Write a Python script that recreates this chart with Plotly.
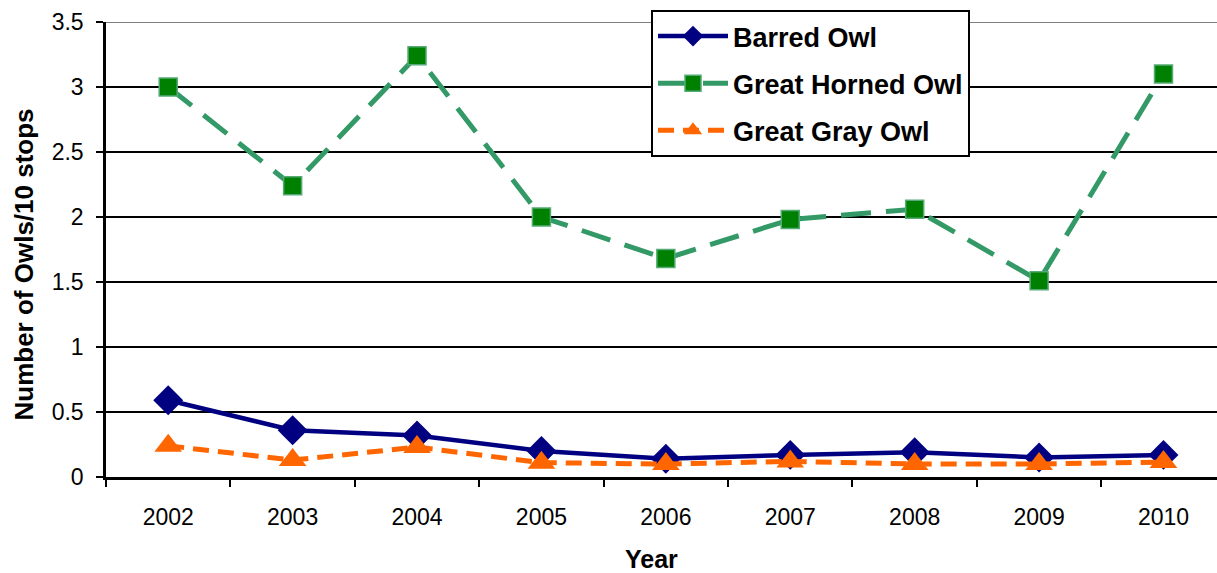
import plotly.graph_objects as go

years = ["2002", "2003", "2004", "2005", "2006", "2007", "2008", "2009", "2010"]
barred_owl = [0.59, 0.36, 0.32, 0.20, 0.14, 0.17, 0.19, 0.15, 0.17]
great_horned_owl = [3.00, 2.24, 3.24, 2.00, 1.68, 1.98, 2.06, 1.51, 3.10]
great_gray_owl = [0.24, 0.13, 0.23, 0.11, 0.10, 0.12, 0.10, 0.10, 0.115]
y_ticks = [0, 0.5, 1, 1.5, 2, 2.5, 3, 3.5]
y_tick_labels = ["0", "0.5", "1", "1.5", "2", "2.5", "3", "3.5"]

FONT = "Liberation Sans, Arial, sans-serif"

fig = go.Figure()
fig.add_trace(go.Scatter(
    x=years, y=barred_owl, name="Barred Owl", mode="lines+markers",
    legendgroup="a",
    line=dict(color="#000080", width=4.5),
    marker=dict(symbol="diamond", size=23, color="#000080"),
))
fig.add_trace(go.Scatter(
    x=years, y=great_horned_owl, name="Great Horned Owl", mode="lines+markers",
    legendgroup="b",
    line=dict(color="#339966", width=5, dash="30px,15px"),
    marker=dict(symbol="square", size=18, color="#008000",
                line=dict(color="#55aa77", width=1.5)),
))
fig.add_trace(go.Scatter(
    x=years, y=great_gray_owl, name="Great Gray Owl", mode="lines+markers",
    legendgroup="c",
    line=dict(color="#FF6600", width=5, dash="16px,9px"),
    marker=dict(symbol="triangle-up", size=24, color="#FF6600"),
))

fig.add_shape(type="line", xref="paper", yref="y", x0=0, x1=1, y0=3.5, y1=3.5,
              line=dict(color="#808080", width=2), layer="above")

fig.add_annotation(text="<b>Number of Owls/10 stops</b>", xref="paper", yref="paper",
                   x=(23 - 106) / 1111, y=(477 - 264.5) / 455, xanchor="center", yanchor="middle",
                   textangle=-90, showarrow=False, font=dict(size=26, family=FONT, color="black"))
fig.add_annotation(text="<b>Year</b>", xref="paper", yref="paper",
                   x=(651 - 106) / 1111, y=(477 - 559) / 455, xanchor="center", yanchor="middle",
                   showarrow=False, font=dict(size=25, family=FONT, color="black"))

fig.update_layout(
    width=1217, height=573,
    margin=dict(l=106, r=0, t=22, b=96, autoexpand=False),
    paper_bgcolor="white", plot_bgcolor="white",
    font=dict(family=FONT, color="black", size=23),
    showlegend=True,
    legend=dict(
        x=(651 - 106) / 1111, y=(477 - 10) / 455, xanchor="left", yanchor="top",
        bgcolor="white", bordercolor="black", borderwidth=2,
        font=dict(family=FONT, size=27, color="black", weight="bold"),
        tracegroupgap=9, itemwidth=70,
    ),
    xaxis=dict(
        type="category", range=[-0.5, 8.43],
        showgrid=False, showline=True, linecolor="black", linewidth=2.5,
        ticks="outside", tickson="boundaries", ticklen=7, tickwidth=2, tickcolor="black",
        tickfont=dict(size=23, family=FONT), ticklabelstandoff=18,
    ),
    yaxis=dict(
        range=[0, 3.5], tickvals=y_ticks, ticktext=y_tick_labels,
        showgrid=True, gridcolor="black", gridwidth=1.6,
        showline=True, linecolor="black", linewidth=2.5,
        ticks="outside", ticklen=7, tickwidth=2, tickcolor="black",
        tickfont=dict(size=23, family=FONT), ticklabelstandoff=8,
        zeroline=False,
    ),
)

fig.write_html("out.html", config={"displayModeBar": False},
               post_script="document.body.style.margin='0';")
